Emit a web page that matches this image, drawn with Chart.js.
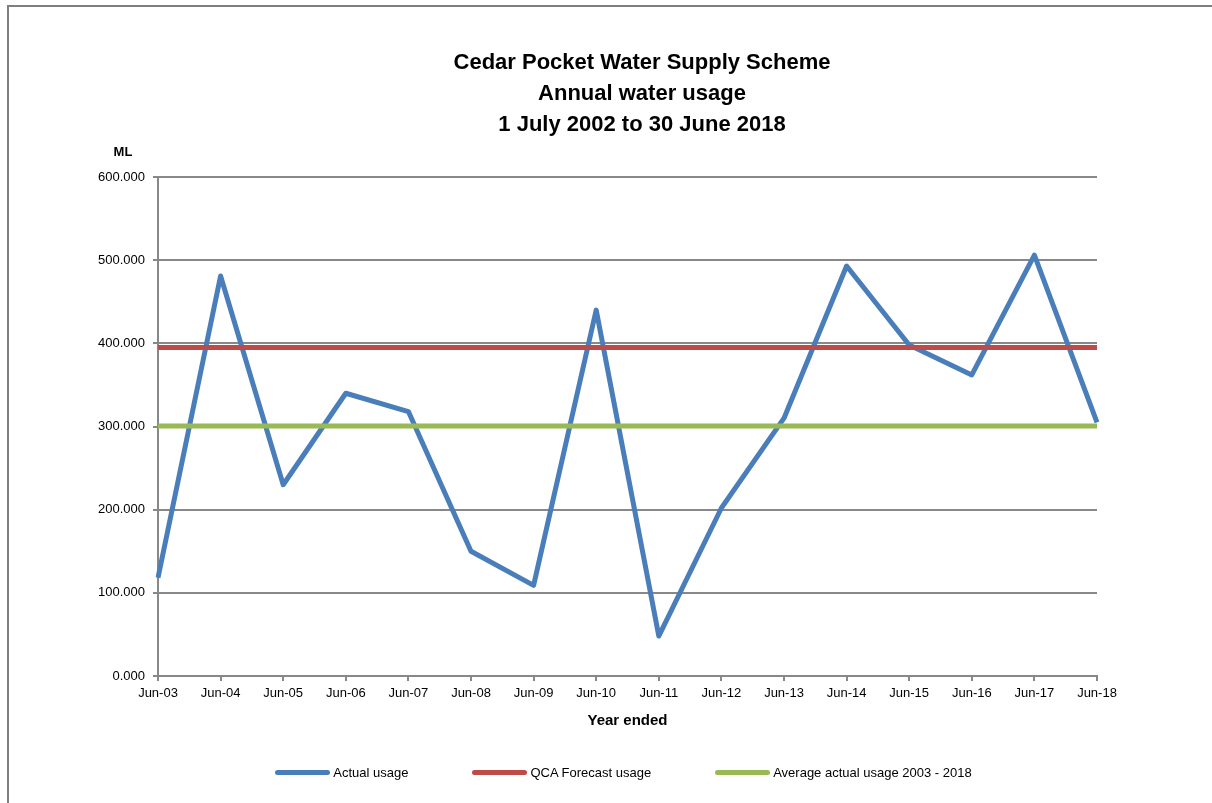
<!DOCTYPE html>
<html>
<head>
<meta charset="utf-8">
<script src="https://cdn.jsdelivr.net/npm/chart.js@4.4.1/dist/chart.umd.min.js"></script>
<style>
html, body { margin: 0; padding: 0; background: #fff; overflow: hidden; }
#wrap { position: relative; width: 1212px; height: 803px; }
#frame { position: absolute; left: 7px; top: 5px; width: 1300px; height: 900px;
  border-left: 2px solid #7f7f7f; border-top: 2px solid #7f7f7f; }
canvas { position: absolute; left: 0; top: 0; }
#legend { position: absolute; top: 764px; display: flex; justify-content: center; gap: 64px;
  font: 13px "Liberation Sans", Arial, sans-serif; color: #000; }
.item { display: flex; align-items: center; height: 16px; }
.sw { width: 55px; height: 5px; border-radius: 3px; margin-right: 3px; }
</style>
</head>
<body>
<div id="wrap">
  <div id="frame"></div>
  <canvas id="waterChart" width="1212" height="803"></canvas>
  <div id="legend"></div>
</div>
<script>
const years = ['Jun-03', 'Jun-04', 'Jun-05', 'Jun-06', 'Jun-07', 'Jun-08', 'Jun-09', 'Jun-10',
  'Jun-11', 'Jun-12', 'Jun-13', 'Jun-14', 'Jun-15', 'Jun-16', 'Jun-17', 'Jun-18'];
const actualUsage = [118, 481, 230, 340, 318, 150, 109, 440, 48, 202, 310, 493, 398, 362, 506, 305];
const qcaForecast = [395, 395, 395, 395, 395, 395, 395, 395, 395, 395, 395, 395, 395, 395, 395, 395];
const averageUsage = [300.6, 300.6, 300.6, 300.6, 300.6, 300.6, 300.6, 300.6,
  300.6, 300.6, 300.6, 300.6, 300.6, 300.6, 300.6, 300.6];
const yTickValues = [0, 100, 200, 300, 400, 500, 600];
const titleLines = ['Cedar Pocket Water Supply Scheme', 'Annual water usage', '1 July 2002 to 30 June 2018'];

const FONT = '"Liberation Sans", Arial, sans-serif';
const GRID = '#888888';

// title and the "ML" unit label
const textPlugin = {
  id: 'texts',
  afterDraw(chart) {
    const c = chart.ctx;
    const a = chart.chartArea;
    c.save();
    c.fillStyle = '#000';
    c.textAlign = 'center';
    c.textBaseline = 'middle';
    c.font = 'bold 22px ' + FONT;
    titleLines.forEach((t, i) => c.fillText(t, 642, 63 + i * 31));
    c.font = 'bold 13px ' + FONT;
    c.fillText('ML', a.left - 35, a.top - 25);
    c.restore();
  }
};

const ctx = document.getElementById('waterChart');

const chart = new Chart(ctx, {
  type: 'line',
  data: {
    labels: years,
    datasets: [
      {
        label: 'Actual usage',
        data: actualUsage,
        borderColor: '#4a7ebb',
        backgroundColor: '#4a7ebb',
        borderWidth: 5,
        pointRadius: 0,
        borderJoinStyle: 'round',
        order: 3
      },
      {
        label: 'QCA Forecast usage',
        data: qcaForecast,
        borderColor: '#be4b48',
        backgroundColor: '#be4b48',
        borderWidth: 5,
        pointRadius: 0,
        order: 2
      },
      {
        label: 'Average actual usage 2003 - 2018',
        data: averageUsage,
        borderColor: '#98b954',
        backgroundColor: '#98b954',
        borderWidth: 5,
        pointRadius: 0,
        order: 1
      }
    ]
  },
  options: {
    responsive: false,
    animation: false,
    layout: { padding: { left: 98, right: 115, top: 177, bottom: 67 } },
    plugins: {
      legend: { display: false },
      tooltip: { enabled: false }
    },
    scales: {
      x: {
        offset: false,
        grid: { drawOnChartArea: false, drawTicks: true, tickLength: 5, color: GRID, lineWidth: 2 },
        border: { color: GRID, width: 2 },
        ticks: { font: { size: 13, family: FONT }, color: '#000', maxRotation: 0, autoSkip: false, padding: 5 },
        title: { display: true, text: 'Year ended', color: '#000', font: { size: 15, weight: 'bold', family: FONT }, padding: { top: 4, bottom: 6 } },
        afterFit: s => { s.height = 60; }
      },
      y: {
        min: 0,
        max: 600,
        afterBuildTicks: s => { s.ticks = yTickValues.map(v => ({ value: v })); },
        grid: { color: GRID, lineWidth: 2, tickLength: 5 },
        border: { color: GRID, width: 2 },
        ticks: { font: { size: 13, family: FONT }, color: '#000', padding: 8, callback: v => v.toFixed(3) },
        afterFit: s => { s.width = 60; }
      }
    }
  },
  plugins: [textPlugin]
});

// legend as html, built from the datasets
const legend = document.getElementById('legend');
legend.style.left = (chart.chartArea.left - 4) + 'px';
legend.style.width = (chart.chartArea.right - chart.chartArea.left) + 'px';
chart.data.datasets.forEach(ds => {
  const item = document.createElement('div');
  item.className = 'item';
  const sw = document.createElement('span');
  sw.className = 'sw';
  sw.style.background = ds.borderColor;
  const tx = document.createElement('span');
  tx.textContent = ds.label;
  item.appendChild(sw);
  item.appendChild(tx);
  legend.appendChild(item);
});
</script>
</body>
</html>
